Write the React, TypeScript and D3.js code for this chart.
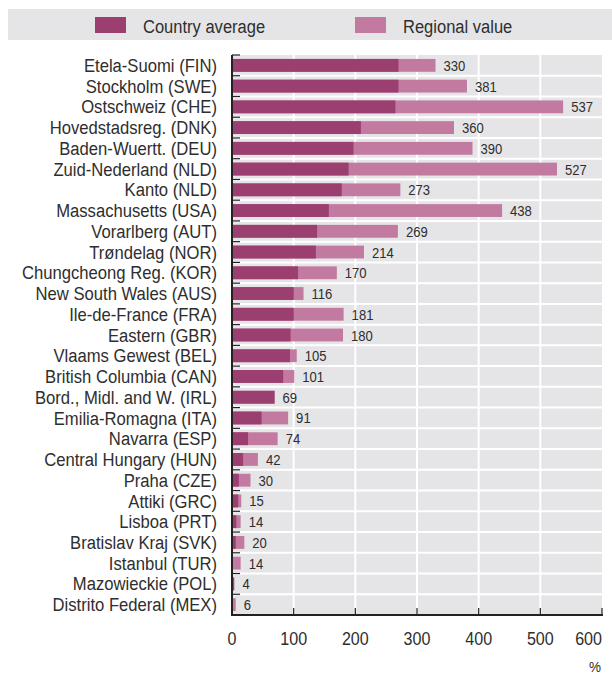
import * as d3 from "d3";
import type { ReactNode } from "react";

const regions = [
  "Etela-Suomi (FIN)", "Stockholm (SWE)", "Ostschweiz (CHE)", "Hovedstadsreg. (DNK)",
  "Baden-Wuertt. (DEU)", "Zuid-Nederland (NLD)", "Kanto (NLD)", "Massachusetts (USA)",
  "Vorarlberg (AUT)", "Trøndelag (NOR)", "Chungcheong Reg. (KOR)", "New South Wales (AUS)",
  "Ile-de-France (FRA)", "Eastern (GBR)", "Vlaams Gewest (BEL)", "British Columbia (CAN)",
  "Bord., Midl. and W. (IRL)", "Emilia-Romagna (ITA)", "Navarra (ESP)", "Central Hungary (HUN)",
  "Praha (CZE)", "Attiki (GRC)", "Lisboa (PRT)", "Bratislav Kraj (SVK)", "Istanbul (TUR)",
  "Mazowieckie (POL)", "Distrito Federal (MEX)",
];

// regional value (labelled at bar end)
const regionalValue = [
  330, 381, 537, 360, 390, 527, 273, 438, 269, 214, 170, 116, 181, 180,
  105, 101, 69, 91, 74, 42, 30, 15, 14, 20, 14, 4, 6,
];

// country average
const countryAverage = [
  270, 270, 265, 209, 197, 189, 178, 157, 138, 136, 107, 100, 100, 95,
  94, 83, 69, 48, 26, 18, 11, 10, 7, 6, 1, 3, 1,
];

const xTicks = [0, 100, 200, 300, 400, 500, 600];

const width = 612;
const height = 674;
const font = "'Liberation Sans', Arial, sans-serif";
const darkColor = "#9b3e70";
const lightColor = "#c27aa0";
const panelColor = "#e5e5e7";
const textColor = "#2e2e2e";

// condensed text: the original uses a narrow grotesque, so squeeze Liberation Sans
const Narrow = ({ x, y, size, sx = 0.9, anchor = "start", children }: {
  x: number; y: number; size: number; sx?: number; anchor?: string; children: ReactNode;
}) => (
  <g transform={`translate(${x},${y}) scale(${sx},1)`}>
    <text x={0} y={0} fontSize={size} textAnchor={anchor} fill={textColor}>{children}</text>
  </g>
);

const App = () => {
  const left = 232;
  const right = 602;
  const top = 55;
  const bottom = 615;

  const xScale = d3.scaleLinear().domain([0, 600]).range([left, right]);
  const yScale = d3.scaleBand().domain(regions).range([top, bottom]).paddingInner(0.38).paddingOuter(0.19);
  const step = yScale.step();
  const bw = yScale.bandwidth();
  const rowTop = (r: string) => (yScale(r) as number) - (step - bw) / 2;

  return (
    <div style={{ position: "absolute", left: 0, top: 0 }}>
      <svg width={width} height={height} style={{ display: "block", fontFamily: font }}>
        {/* legend */}
        <rect x={8} y={9} width={604} height={31} fill={panelColor} />
        <rect x={95} y={17} width={31} height={16} fill={darkColor} />
        <Narrow x={143} y={32.5} size={19} sx={0.87}>Country average</Narrow>
        <rect x={355} y={17} width={31} height={16} fill={lightColor} />
        <Narrow x={403} y={32.5} size={19} sx={0.87}>Regional value</Narrow>

        {/* panel */}
        <rect x={left} y={top} width={right - left} height={bottom - top} fill={panelColor} />
        {xTicks.slice(1, -1).map((t) => (
          <line key={t} x1={xScale(t)} x2={xScale(t)} y1={top} y2={bottom} stroke="#fff" strokeWidth={2} />
        ))}
        {regions.slice(1).map((r) => (
          <line key={r} x1={left} x2={right} y1={rowTop(r)} y2={rowTop(r)} stroke="#fff" strokeWidth={2} />
        ))}

        {/* bars */}
        {regions.map((r, i) => {
          const y = yScale(r) as number;
          const cy = y + bw / 2;
          return (
            <g key={r}>
              <rect x={xScale(0)} y={y} width={xScale(regionalValue[i]) - xScale(0)} height={bw} fill={lightColor} />
              <rect x={xScale(0)} y={y} width={xScale(countryAverage[i]) - xScale(0)} height={bw} fill={darkColor} />
              <Narrow x={xScale(regionalValue[i]) + 8} y={cy + 5.5} size={15.2} sx={0.86}>
                {regionalValue[i]}
              </Narrow>
              <Narrow x={217} y={cy + 6.6} size={18.5} sx={0.9} anchor="end">
                {r}
              </Narrow>
            </g>
          );
        })}

        {/* y ticks between rows */}
        {regions.map((r) => (
          <line key={r} x1={left} x2={left + 8} y1={rowTop(r)} y2={rowTop(r)} stroke="#222" strokeWidth={1.2} />
        ))}

        {/* axes */}
        <line x1={left} x2={left} y1={top} y2={bottom + 1} stroke="#222" strokeWidth={2} />
        <line x1={left - 1} x2={right + 1} y1={bottom} y2={bottom} stroke="#222" strokeWidth={2} />
        {xTicks.map((t, i) => (
          <g key={t}>
            <line x1={xScale(t)} x2={xScale(t)} y1={bottom} y2={bottom - 7} stroke="#222" strokeWidth={1.2} />
            <Narrow
              x={i === xTicks.length - 1 ? right : xScale(t)}
              y={645}
              size={18.5}
              sx={0.87}
              anchor={i === xTicks.length - 1 ? "end" : "middle"}
            >
              {t}
            </Narrow>
          </g>
        ))}
        <Narrow x={595} y={672} size={15} sx={0.9} anchor="middle">%</Narrow>
      </svg>
    </div>
  );
};

export default App;
